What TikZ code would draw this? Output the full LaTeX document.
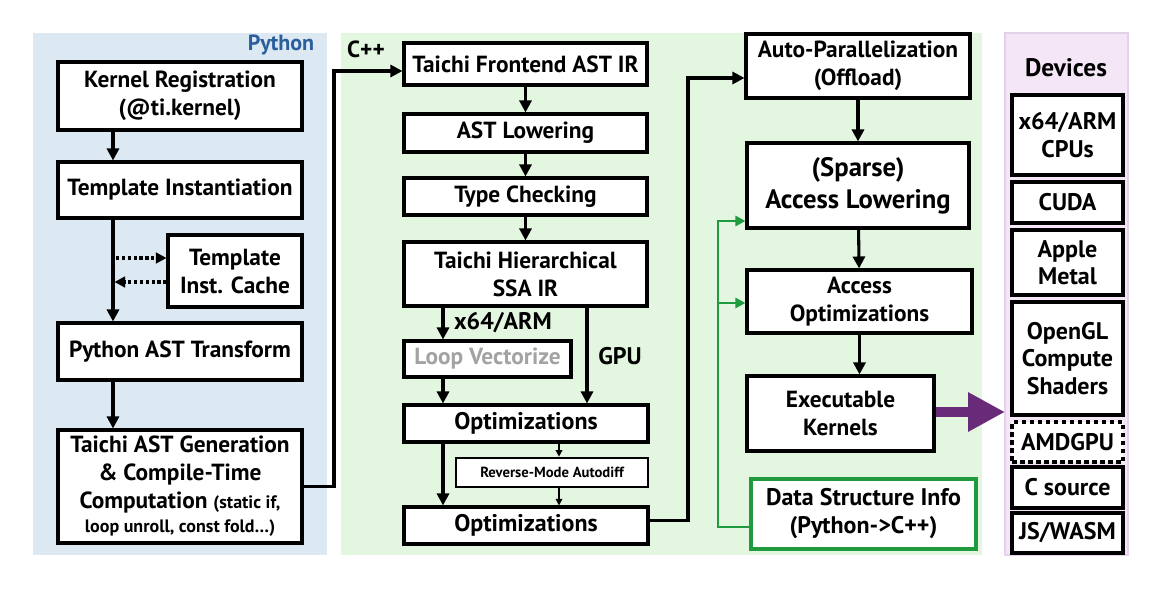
\documentclass[tikz,border=0pt]{standalone}
\usepackage{fontspec}
\setmainfont{PT Sans}
\usetikzlibrary{arrows.meta,calc}

% one drawing unit = one pixel of the 1159 x 589 canvas, y grows downwards
\newdimen\pxu \pxu=0.75pt

\definecolor{pyback}{HTML}{DCE9F3}
\definecolor{cppback}{HTML}{E3F6E0}
\definecolor{devback}{HTML}{F4E6F6}
\definecolor{devedge}{HTML}{E3D2E9}
\definecolor{pyblue}{HTML}{2B5E9C}
\definecolor{dsgreen}{HTML}{1F9A3E}
\definecolor{kernpurple}{HTML}{6A2A7A}
\definecolor{dimtext}{HTML}{A3A3A3}

\tikzset{
  wh/.style 2 args={minimum width=#1\pxu, minimum height=#2\pxu},
  panel/.style={draw=none, inner sep=0pt, outer sep=0pt},
  stage/.style={draw=black, line width=2.3pt, fill=white, inner sep=0pt,
    align=center, font=\bfseries\fontsize{17.5}{21}\selectfont},
  device/.style={stage, font=\bfseries\fontsize{18}{20.5}\selectfont},
  small/.style={font=\bfseries\fontsize{11}{13}\selectfont},
  lbl/.style={inner sep=0pt, font=\bfseries\fontsize{18}{20}\selectfont},
  arr/.style={line width=2.3pt, -{Triangle[length=9pt,width=9pt]}},
  thinarr/.style={line width=1.1pt, -{Triangle[length=5pt,width=5pt]}},
  dotarr/.style={line width=2.3pt, dash pattern=on 2.4pt off 2pt,
    -{Triangle[length=8pt,width=8pt]}},
  garr/.style={draw=dsgreen, line width=1.9pt,
    -{Triangle[length=7.5pt,width=7.5pt]}},
  bigarr/.style={draw=kernpurple, line width=7.5pt,
    -{Triangle[length=27.75pt,width=27.75pt]}},
}

\begin{document}
\begin{tikzpicture}[x=\pxu, y=-\pxu]
\useasboundingbox (0,0) rectangle (1159,589);

% ---------- background panels ----------
\node[panel, fill=pyback, wh={294}{522}] (pypanel) at (180,294) {};
\node[panel, fill=cppback, wh={641}{522}] (cpppanel) at (661.5,294) {};
\node[panel, fill=devback, draw=devedge, line width=1.5pt, wh={123}{522}] (devpanel) at (1066.5,294) {};

\node[inner sep=0pt, text=pyblue, font=\bfseries\fontsize{16.5}{19}\selectfont] (pylabel) at (281,45) {Python};
\node[inner sep=0pt, font=\bfseries\fontsize{17.5}{20}\selectfont] (cpplabel) at (366,49) {C++};
\node[inner sep=0pt, font=\bfseries\fontsize{19}{22}\selectfont] (devlabel) at (1066,68) {Devices};

% ---------- Python front end ----------
\node[stage, wh={244}{68}]  (kreg)   at (180,96)    {Kernel Registration\\(@ti.kernel)};
\node[stage, wh={244}{56}]  (tinst)  at (180,190)   {Template Instantiation};
\node[stage, wh={134}{72}]  (tcache) at (235,271)   {Template\\Inst. Cache};
\node[stage, wh={244}{57}]  (pyast)  at (180,351.5) {Python AST Transform};
\node[stage, wh={244}{113}] (tast)   at (180,486.5)
  {Taichi AST Generation\\\& Compile-Time\\Computation {\fontsize{13.5}{15}\selectfont(static if,}\\[-3pt]
   {\fontsize{13.5}{15}\selectfont loop unroll, const fold\dots)}};

\coordinate (pyspine) at (113,0);
\coordinate (lbus) at (334,0);
\coordinate (cachein)  at ($(tcache.west)+(0,-13)$);
\coordinate (cacheout) at ($(tcache.west)+(0,11)$);

\draw[arr] (kreg.south -| pyspine) -- (tinst.north -| pyspine);
\draw[arr] (tinst.south -| pyspine) -- (pyast.north -| pyspine);
\draw[arr] (pyast.south -| pyspine) -- (tast.north -| pyspine);
\draw[dotarr] ($(cachein -| pyspine)+(3,0)$) -- (cachein);
\draw[dotarr] (cacheout) -- ($(cacheout -| pyspine)+(1.5,0)$);

% ---------- C++ middle end ----------
\node[stage, wh={243}{42}] (front)  at (525.5,64)    {Taichi Frontend AST IR};
\node[stage, wh={243}{38}] (lower)  at (525.5,133)   {AST Lowering};
\node[stage, wh={243}{37}] (tcheck) at (525.5,196.5) {Type Checking};
\node[stage, wh={243}{64}] (ssa)    at (525.5,274)   {Taichi Hierarchical\\SSA IR};
\node[stage, wh={167}{36}, text=dimtext] (loopv) at (487.5,359) {Loop Vectorize};
\node[stage, wh={244}{37}, font=\bfseries\fontsize{18}{21}\selectfont] (opt1) at (526,423.5) {Optimizations};
\node[stage, small, line width=2pt, wh={192}{29}] (rmad) at (552,472.5) {Reverse-Mode Autodiff};
\node[stage, wh={244}{37}, font=\bfseries\fontsize{18}{21}\selectfont] (opt2) at (526,525.5) {Optimizations};

\node[lbl] (lx64) at (503,323) {x64/ARM};
\node[lbl] (lgpu) at (620,356) {GPU};

\coordinate (frontin) at ($(front.west)+(0,7)$);
\draw[arr] (tast.east) -| (lbus |- frontin) -- (frontin);

\coordinate (cpuspine) at (443,0);
\coordinate (gpuspine) at (587,0);
\coordinate (adspine)  at (559,0);

\draw[arr] (front) -- (lower);
\draw[arr] (lower) -- (tcheck);
\draw[arr] (tcheck) -- (ssa);
\draw[arr] (ssa.south -| cpuspine) -- (loopv.north -| cpuspine);
\draw[arr] (loopv.south -| cpuspine) -- (opt1.north -| cpuspine);
\draw[arr] (opt1.south -| cpuspine) -- (opt2.north -| cpuspine);
\draw[arr] (ssa.south -| gpuspine) -- (opt1.north -| gpuspine);
\draw[thinarr] (opt1.south -| adspine) -- (rmad.north -| adspine);
\draw[thinarr] (rmad.south -| adspine) -- (opt2.north -| adspine);

% ---------- C++ back end ----------
\node[stage, wh={224}{64}] (autopar) at (858,66)      {Auto-Parallelization\\(Offload)};
\node[stage, wh={222}{85}, font=\bfseries\fontsize{20}{24}\selectfont] (sparse) at (858,185.5) {(Sparse)\\Access Lowering};
\node[stage, wh={225}{63}] (accopt)  at (859.5,301.5) {Access\\Optimizations};
\node[stage, wh={187}{75}] (exec)    at (840.5,413.5) {Executable\\Kernels};
\node[stage, draw=dsgreen, wh={225}{70}, font=\bfseries\fontsize{18}{21}\selectfont] (dsinfo) at (863.5,514) {Data Structure Info\\(Python->C++)};

\coordinate (rbus) at (688,0);
\coordinate (apin) at ($(autopar.west)+(0,12)$);
\draw[arr] ($(opt2.east)+(0,-5)$) -| (rbus |- apin) -- (apin);

\draw[arr] (autopar) -- (sparse);
\draw[arr] (sparse) -- (accopt);
\draw[arr] (accopt.south) -- (accopt.south |- exec.north);

\coordinate (gbus) at (718,0);
\coordinate (gin1) at ($(sparse.west)+(0,35.5)$);
\coordinate (gin2) at ($(accopt.west)+(0,1.5)$);
\coordinate (gout) at ($(dsinfo.west)+(0,13)$);
\draw[garr] (gout) -| (gbus |- gin1) -- (gin1);
\draw[garr] (gbus |- gin2) -- (gin2);

\coordinate (execout) at ($(exec.east)+(0,-1.5)$);
\draw[bigarr] (execout) -- (devpanel.west |- execout);

% ---------- devices ----------
\node[device, wh={111}{80}]  (cpus)   at (1067.5,135)   {x64/ARM\\CPUs};
\node[device, wh={111}{41}]  (cuda)   at (1067.5,202.5) {CUDA};
\node[device, wh={111}{65}]  (metal)  at (1067.5,262.5) {Apple\\Metal};
\node[device, wh={111}{113}] (opengl) at (1067.5,358.5) {OpenGL\\Compute\\Shaders};
\node[device, dash pattern=on 4.5\pxu off 3.5\pxu, wh={111}{40}] (amdgpu) at (1067.5,442) {AMDGPU};
\node[device, wh={111}{41}]  (csrc)   at (1067.5,487.5) {C source};
\node[device, wh={111}{40}]  (jswasm) at (1067.5,533)   {JS/WASM};
\end{tikzpicture}
\end{document}
